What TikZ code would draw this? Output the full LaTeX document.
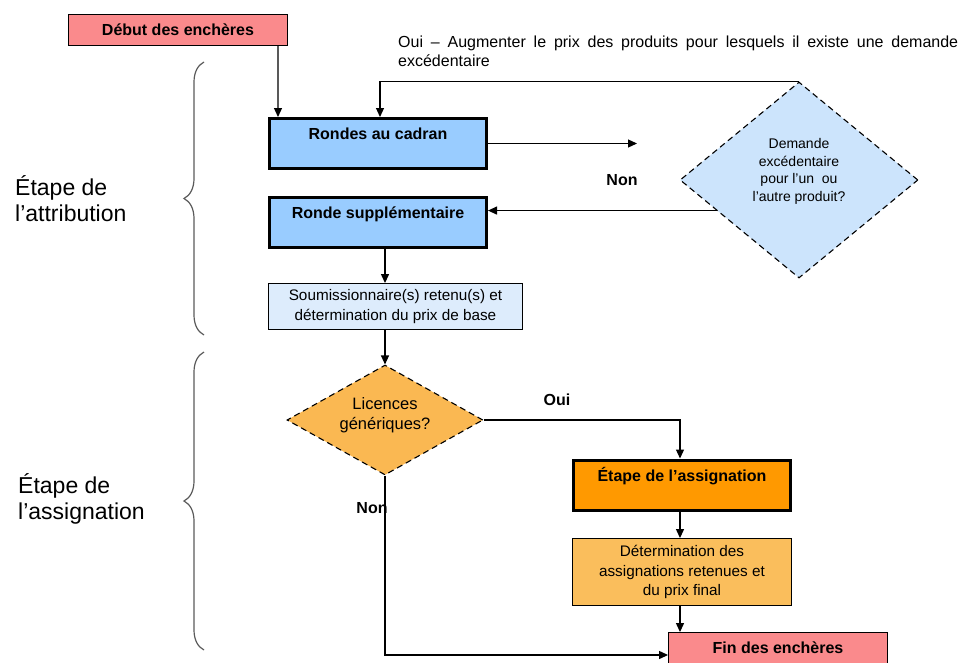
\documentclass[tikz,border=0pt]{standalone}
\usepackage{fontspec}
\setmainfont{Liberation Sans}
\usetikzlibrary{shapes.geometric,arrows.meta,decorations.pathreplacing,calc}
\definecolor{pinkbox}{RGB}{250,138,140}
\definecolor{bluebox}{RGB}{153,204,255}
\definecolor{palebox}{RGB}{221,236,252}
\definecolor{bluedia}{RGB}{204,228,252}
\definecolor{orangedia}{RGB}{250,184,82}
\definecolor{orangebox}{RGB}{255,153,0}
\definecolor{lightorange}{RGB}{250,190,92}
\definecolor{bracegray}{RGB}{90,90,90}
\begin{document}
\begin{tikzpicture}[x=1pt,y=-1pt,>={Triangle[length=9pt,width=8pt]},
  conn/.style={line width=1.2pt},
  endbox/.style={draw,line width=0.9pt,fill=pinkbox,minimum width=219pt,minimum height=31pt,inner sep=0pt,font=\fontsize{16}{18}\selectfont\bfseries},
  cadre/.style={draw,line width=3pt,minimum width=217pt,text height=18pt,text depth=26pt,inner sep=3pt,font=\fontsize{16}{18}\selectfont\bfseries},
  plainbox/.style={draw,line width=0.9pt,inner sep=0pt,align=center,font=\fontsize{15.3}{19.5}\selectfont},
  question/.style={diamond,draw,dashed,dash pattern=on 6pt off 4pt,line width=1.1pt,inner sep=0pt,align=center},
  lbl/.style={font=\fontsize{16}{18}\selectfont\bfseries},
  stage/.style={anchor=west,align=left,inner sep=0pt,font=\fontsize{23}{26}\selectfont},
  accolade/.style={decorate,decoration={brace,amplitude=20pt},line width=1.2pt,draw=bracegray}]
 \useasboundingbox (0,0) rectangle (960,662);
 \node[endbox] (deb) at (178,30) {Début des enchères};
 \node[cadre,fill=bluebox] (rc) at (378,143.5) {Rondes au cadran};
 \node[cadre,fill=bluebox] (rs) at (378,222) {Ronde supplémentaire};
 \node[plainbox,fill=palebox,minimum width=254pt,minimum height=46pt] (soum) at (395.5,306.5) {Soumissionnaire(s) retenu(s) et\\détermination du prix de base};
 \node[question,fill=bluedia,aspect=1.21,minimum width=238pt,minimum height=196pt,font=\fontsize{14}{17.5}\selectfont] (dem) at (799,180) {Demande\\excédentaire\\pour l’un \ ou\\l’autre produit?\\[2.5pt]};
 \node[question,fill=orangedia,aspect=1.78,minimum width=196pt,minimum height=110pt,font=\fontsize{16.5}{20}\selectfont] (lic) at (385,420) {Licences\\génériques?\\[-8pt]};
 \node[cadre,fill=orangebox] (ea) at (682,485) {Étape de l’assignation};
 \node[plainbox,fill=lightorange,minimum width=219pt,minimum height=67pt] (det) at (682,572) {Détermination des\\assignations retenues et\\du prix final};
 \node[endbox] (fin) at (778,648) {Fin des enchères};
 \node[anchor=north west,text width=560pt,align=justify,inner sep=0pt,font=\fontsize{16}{19}\selectfont] (ouitxt) at (398,36) {Oui -- Augmenter le prix des produits pour lesquels il existe une demande\linebreak excédentaire};
 \node[lbl] (non1) at (622,180) {Non};
 \node[lbl] (oui2) at (557,400) {Oui};
 \node[lbl] (non2) at (372,508) {Non};
 \node[stage] (st1) at (15,199) {Étape de\\l’attribution};
 \node[stage] (st2) at (18,499) {Étape de\\l’assignation};
 \coordinate (tipA) at (637,143.5);
 \coordinate (dnon) at ($(dem.west)!0.31!(dem.south)$);
 \draw[conn,->] ([xshift=-10pt]deb.south east) -- ([xshift=10pt]rc.north west);
 \draw[conn,->] (rc.east) -- (tipA);
 \draw[conn,->] (dem.north) -| ([xshift=2pt]rc.north);
 \draw[conn,->] (dnon) -- (dnon -| rs.east);
 \draw[conn,->] ([xshift=7pt]rs.south) -- (soum.north -| lic.north);
 \draw[conn,->] (soum.south -| lic.north) -- (lic.north);
 \draw[conn,->] (lic.east) -| ([xshift=-2pt]ea.north);
 \draw[conn,->] (lic.south) |- ([yshift=-7pt]fin.west);
 \draw[conn,->] ([xshift=-2pt]ea.south) -- ([xshift=-2pt]det.north);
 \draw[conn,->] ([xshift=-2pt]det.south) -- ([xshift=-2pt]det.south |- fin.north);
 \draw[accolade] (204,335) -- (204,62);
 \draw[accolade] (204,650) -- (204,352);
\end{tikzpicture}
\end{document}
